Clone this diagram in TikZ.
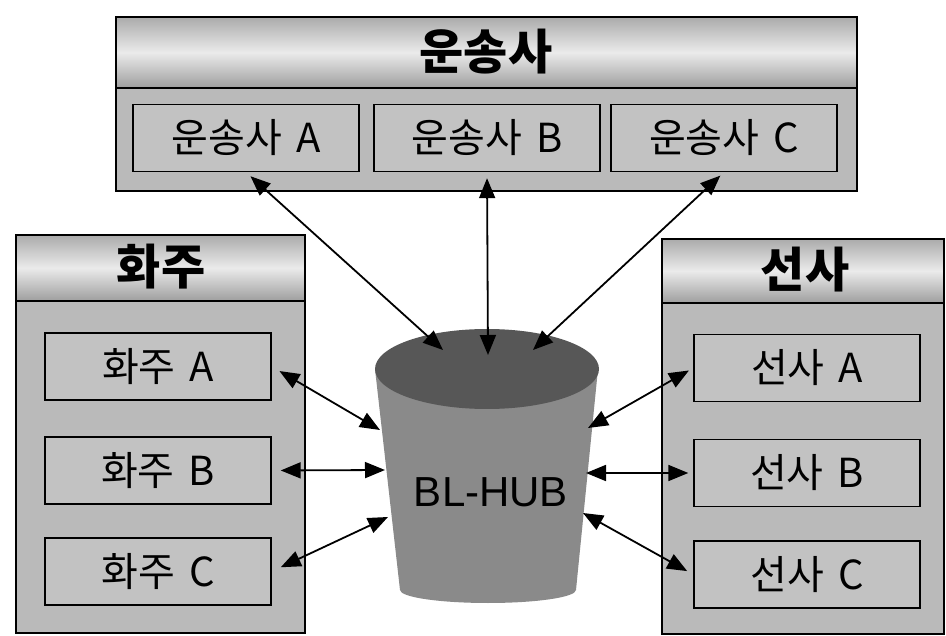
\documentclass[tikz,border=0pt]{standalone}
\usepackage{fontspec}
\setmainfont{Noto Sans CJK KR}
\newfontfamily\latinfont{Liberation Sans}
\usetikzlibrary{arrows.meta}
\begin{document}
\begin{tikzpicture}[x=1pt,y=-1pt,
  panel/.style={draw=black, line width=1.6pt, fill=black!27},
  header/.style={draw=black, line width=1.6pt, top color=black!33, bottom color=black!38, middle color=white!92!black},
  item/.style={draw=black, line width=1.4pt, fill=black!24, minimum width=226pt, minimum height=67pt,
    inner sep=0pt, font=\fontsize{40}{42}\selectfont},
  title/.style={font=\fontsize{48}{50}\selectfont\bfseries},
  link/.style={line width=1.8pt, {Triangle[length=20pt,width=16pt]}-{Triangle[length=20pt,width=16pt]}}
]
\useasboundingbox (0,0) rectangle (946,636);

% carriers panel (top)
\draw[panel]  (116,17) rectangle (857,191);
\draw[header] (116,17) rectangle (857,88);
\node[title] (carrierT) at (486,52) {운송사};
\node[item] (c1) at (246,138) {운송사\hspace{0.35em}A};
\node[item] (c2) at (487,138) {운송사\hspace{0.35em}B};
\node[item] (c3) at (724,138) {운송사\hspace{0.35em}C};

% shippers panel (left)
\draw[panel]  (16,235) rectangle (305,633);
\draw[header] (16,235) rectangle (305,301);
\node[title] (shipperT) at (161,267) {화주};
\node[item] (w1) at (158,366.5) {화주\hspace{0.35em}A};
\node[item] (w2) at (158,470.5) {화주\hspace{0.35em}B};
\node[item] (w3) at (158,571.5) {화주\hspace{0.35em}C};

% shipping lines panel (right)
\draw[panel]  (662,239) rectangle (944,634);
\draw[header] (662,239) rectangle (944,303);
\node[title] (lineT) at (805,270) {선사};
\node[item] (s1) at (807,368) {선사\hspace{0.35em}A};
\node[item] (s2) at (807,473) {선사\hspace{0.35em}B};
\node[item] (s3) at (807,574.5) {선사\hspace{0.35em}C};

% hub bucket
\fill[black!46] (375,369) -- (400,590) arc[start angle=180,end angle=0,x radius=88,y radius=13] -- (598,369) -- cycle;
\fill[black!66] (487,369) ellipse[x radius=112, y radius=40];
\node[font=\latinfont\fontsize{42}{44}\selectfont] (hub) at (491,492) {BL-HUB};

% attachment points on the bucket
\coordinate (hc1) at (443,350);
\coordinate (hc2) at (488,355);
\coordinate (hc3) at (533,350);
\coordinate (hw1) at (380,430);
\coordinate (hw2) at (385,470);
\coordinate (hw3) at (388,517);
\coordinate (hs1) at (588,428);
\coordinate (hs2) at (586,473);
\coordinate (hs3) at (583,513);

% links
\draw[link, shorten <=6pt] (c1.south) -- (hc1);
\draw[link, shorten <=6pt] (c2.south) -- (hc2);
\draw[link, shorten <=5pt] (c3.south) -- (hc3);
\draw[link, shorten <=9pt] (w1.east) -- (hw1);
\draw[link, shorten <=9pt] (w2.east) -- (hw2);
\draw[link, shorten <=10pt] (w3.east) -- (hw3);
\draw[link, shorten <=5pt] (s1.west) -- (hs1);
\draw[link, shorten <=5pt] (s2.west) -- (hs2);
\draw[link, shorten <=7pt] (s3.west) -- (hs3);
\end{tikzpicture}
\end{document}
